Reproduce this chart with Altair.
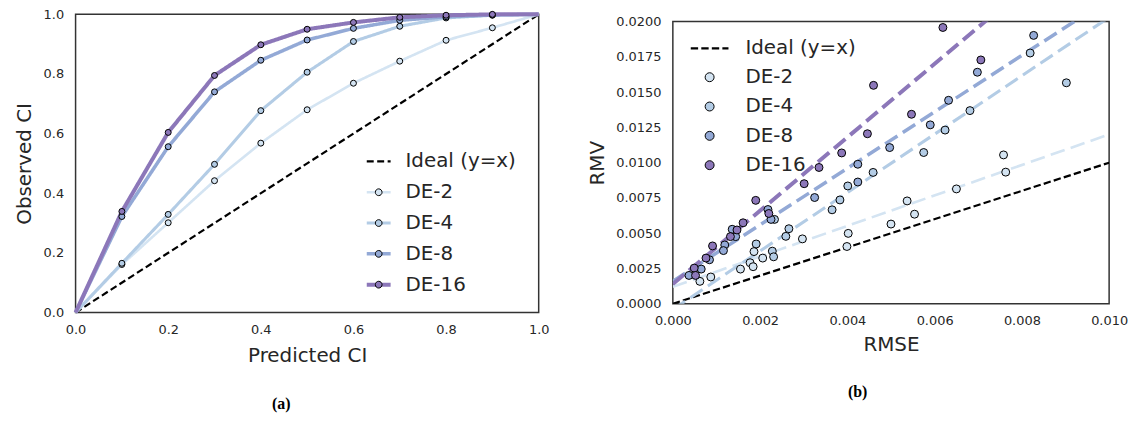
import altair as alt
import pandas as pd

# ---------------- Panel (a): calibration curves ----------------
pred_ci = [0.0, 0.1, 0.2, 0.3, 0.4, 0.5, 0.6, 0.7, 0.8, 0.9, 1.0]
obs_de2 = [0.0, 0.161, 0.301, 0.442, 0.568, 0.680, 0.769, 0.843, 0.913, 0.955, 1.0]
obs_de4 = [0.0, 0.165, 0.329, 0.497, 0.677, 0.806, 0.909, 0.960, 0.988, 0.997, 1.0]
obs_de8 = [0.0, 0.322, 0.556, 0.740, 0.846, 0.914, 0.953, 0.980, 0.992, 0.998, 1.0]
obs_de16 = [0.0, 0.339, 0.604, 0.795, 0.898, 0.950, 0.973, 0.990, 0.997, 1.0, 1.0]
ideal_a_x = [0.0, 1.0]
ideal_a_y = [0.0, 1.0]

series_names = ["DE-2", "DE-4", "DE-8", "DE-16"]
ideal_name = "Ideal (y=x)"
colors = ["#d4e4f2", "#b3cce5", "#93a9d6", "#8c77b9"]

# ---------------- Panel (b): RMV vs RMSE ----------------
rmse_de2 = [0.00758, 0.00763, 0.00650, 0.00537, 0.00554, 0.00500, 0.00402, 0.00399,
            0.00297, 0.00206, 0.00186, 0.00177, 0.00184, 0.00155, 0.00087, 0.00062]
rmv_de2 = [0.01055, 0.00933, 0.00814, 0.00729, 0.00635, 0.00565, 0.00499, 0.00406,
           0.00460, 0.00324, 0.00370, 0.00291, 0.00263, 0.00246, 0.00190, 0.00159]
rmse_de4 = [0.00819, 0.00902, 0.00681, 0.00624, 0.00575, 0.00459, 0.00401, 0.00383,
            0.00365, 0.00233, 0.00266, 0.00259, 0.00191, 0.00228, 0.00231]
rmv_de4 = [0.01777, 0.01566, 0.01369, 0.01231, 0.01072, 0.00931, 0.00835, 0.00736,
           0.00666, 0.00598, 0.00532, 0.00478, 0.00424, 0.00373, 0.00333]
rmse_de8 = [0.00827, 0.00698, 0.00632, 0.00590, 0.00497, 0.00424, 0.00424, 0.00325,
            0.00218, 0.00225, 0.00144, 0.00136, 0.00119, 0.00116, 0.00084, 0.00065, 0.00037]
rmv_de8 = [0.01902, 0.01641, 0.01442, 0.01268, 0.01107, 0.00989, 0.00863, 0.00753,
           0.00668, 0.00598, 0.00476, 0.00528, 0.00417, 0.00377, 0.00312, 0.00246, 0.00201]
rmse_de16 = [0.00619, 0.00706, 0.00460, 0.00547, 0.00446, 0.00387, 0.00335, 0.00301,
             0.00190, 0.00220, 0.00161, 0.00147, 0.00132, 0.00091, 0.00076, 0.00049, 0.00052]
rmv_de16 = [0.01958, 0.01728, 0.01548, 0.01343, 0.01205, 0.01069, 0.00966, 0.00851,
            0.00733, 0.00640, 0.00574, 0.00523, 0.00476, 0.00410, 0.00324, 0.00253, 0.00201]

# fitted dashed lines (endpoints, clipped by the axes)
fit_x = [0.0, 0.01]
fit_de2 = [0.0012, 0.0120]
fit_de4 = [-0.0004, 0.0203]
fit_de8 = [0.0016, 0.0216]
fit_de16 = [0.0014, 0.0274]
ideal_b_x = [0.0, 0.01]
ideal_b_y = [0.0, 0.01]

# ---------------- build tables ----------------
obs_all = [obs_de2, obs_de4, obs_de8, obs_de16]
rows = [{"x": x, "y": y, "series": ideal_name, "o": 0} for x, y in zip(ideal_a_x, ideal_a_y)]
for i, (name, ys) in enumerate(zip(series_names, obs_all)):
    rows += [{"x": x, "y": y, "series": name, "o": i + 1} for x, y in zip(pred_ci, ys)]
df_a_lines = pd.DataFrame(rows)
pts = []
for i, (name, ys) in enumerate(zip(series_names, obs_all)):
    pts += [{"x": x, "y": y, "series": name, "o": i} for x, y in zip(pred_ci[1:10], ys[1:10])]
df_a_pts = pd.DataFrame(pts)

rows = [{"x": x, "y": y, "series": ideal_name} for x, y in zip(ideal_b_x, ideal_b_y)]
for name, ys in zip(series_names, [fit_de2, fit_de4, fit_de8, fit_de16]):
    rows += [{"x": x, "y": y, "series": name} for x, y in zip(fit_x, ys)]
df_b_lines = pd.DataFrame(rows)
pts = []
for i, (name, xs, ys) in enumerate(zip(series_names,
                                       [rmse_de2, rmse_de4, rmse_de8, rmse_de16],
                                       [rmv_de2, rmv_de4, rmv_de8, rmv_de16])):
    pts += [{"x": x, "y": y, "series": name, "o": i} for x, y in zip(xs, ys)]
df_b_pts = pd.DataFrame(pts)

line_dom = [ideal_name] + series_names
W_A, H_A = 466, 300
W_B, H_B = 439, 284

LINE_SYM = "M-2,0L2,0"
LINE_SYM_B = "M-3,0L3,0"
CIRCLE_SYM = "M-1,0A1,1 0 1,0 1,0A1,1 0 1,0 -1,0Z"

# ---------------- panel (a) ----------------
xa = alt.X("x:Q", scale=alt.Scale(domain=[0, 1], nice=False),
           axis=alt.Axis(title="Predicted CI", values=[0, 0.2, 0.4, 0.6, 0.8, 1.0], format=".1f",
                         labelPadding=11, titlePadding=9))
ya = alt.Y("y:Q", scale=alt.Scale(domain=[0, 1], nice=False),
           axis=alt.Axis(title="Observed CI", values=[0, 0.2, 0.4, 0.6, 0.8, 1.0], format=".1f",
                         labelPadding=12, titlePadding=9))

leg_a_lines = alt.Legend(title=None, orient="none", legendX=295, legendY=138, symbolType=LINE_SYM,
                         symbolSize=144, symbolStrokeWidth=3.5, labelOffset=17, rowPadding=11)
lines_a = alt.Chart(df_a_lines).mark_line().encode(
    x=xa, y=ya,
    stroke=alt.Stroke("series:N", scale=alt.Scale(domain=line_dom, range=["#000000"] + colors),
                      legend=leg_a_lines),
    strokeDash=alt.StrokeDash("series:N", scale=alt.Scale(domain=line_dom,
                              range=[[7, 3.5], [1, 0], [1, 0], [1, 0], [1, 0]]), legend=leg_a_lines),
    strokeWidth=alt.StrokeWidth("series:N", scale=alt.Scale(domain=line_dom, range=[2.2, 4, 4, 4, 4]),
                                legend=None),
    order="o:Q",
)
pts_a = alt.Chart(df_a_pts).mark_circle(size=36, opacity=1, stroke="black", strokeWidth=1).encode(
    x=xa, y=ya,
    fill=alt.Fill("series:N", scale=alt.Scale(domain=series_names, range=colors),
                  legend=alt.Legend(title=None, orient="none", legendX=295, legendY=169,
                                    symbolType=CIRCLE_SYM, symbolSize=46, symbolStrokeColor="black",
                                    symbolStrokeWidth=1, symbolOpacity=1, labelExpr="''",
                                    labelOffset=17, rowPadding=11)),
    order="o:Q",
)
cap_a = alt.Chart(pd.DataFrame({"t": ["(a)"]})).mark_text(
    font="Liberation Serif", fontWeight="bold", fontSize=16, color="#000000").encode(
    text="t:N", x=alt.value(207), y=alt.value(H_A + 92))
panel_a = alt.layer(lines_a, pts_a, cap_a).properties(width=W_A, height=H_A)

# ---------------- panel (b) ----------------
xb = alt.X("x:Q", scale=alt.Scale(domain=[0, 0.01], nice=False),
           axis=alt.Axis(title="RMSE", values=[0, 0.002, 0.004, 0.006, 0.008, 0.01], format=".3f",
                         labelPadding=11, titlePadding=7))
yb = alt.Y("y:Q", scale=alt.Scale(domain=[0, 0.02], nice=False),
           axis=alt.Axis(title="RMV", values=[0, 0.0025, 0.005, 0.0075, 0.01, 0.0125, 0.015, 0.0175, 0.02],
                         format=".4f", labelPadding=12, titlePadding=8))
leg_b_lines = alt.Legend(title=None, orient="none", legendX=27, legendY=17, symbolType=LINE_SYM_B,
                         symbolSize=160, symbolStrokeWidth=2.6, labelOffset=26,
                         values=[ideal_name])
lines_b = alt.Chart(df_b_lines).mark_line(clip=True).encode(
    x=xb, y=yb,
    stroke=alt.Stroke("series:N", scale=alt.Scale(domain=line_dom, range=["#000000"] + colors),
                      legend=leg_b_lines),
    strokeDash=alt.StrokeDash("series:N", scale=alt.Scale(domain=line_dom,
                              range=[[7.4, 3.2], [14.8, 6.4], [14.8, 6.4], [14.8, 6.4], [14.8, 6.4]]),
                              legend=leg_b_lines),
    strokeWidth=alt.StrokeWidth("series:N", scale=alt.Scale(domain=line_dom, range=[2.2, 4, 4, 4, 4]),
                                legend=None),
)
pts_b = alt.Chart(df_b_pts).mark_circle(size=64, opacity=1, stroke="black", strokeWidth=1).encode(
    x=xb, y=yb,
    fill=alt.Fill("series:N", scale=alt.Scale(domain=series_names, range=colors),
                  legend=alt.Legend(title=None, orient="none", legendX=27, legendY=46,
                                    symbolType=CIRCLE_SYM, symbolSize=81, symbolStrokeColor="black",
                                    symbolStrokeWidth=1, symbolOpacity=1, labelOffset=26,
                                    rowPadding=9.5)),
    order="o:Q",
)
cap_b = alt.Chart(pd.DataFrame({"t": ["(b)"]})).mark_text(
    font="Liberation Serif", fontWeight="bold", fontSize=16, color="#000000").encode(
    text="t:N", x=alt.value(186), y=alt.value(H_B + 89))
# invisible rule below caption (b): balances the two columns so panel (b) sits a little lower
bottom_pad = alt.Chart(pd.DataFrame({"t": [0]})).mark_rule(color="transparent").encode(
    x=alt.value(186), y=alt.value(H_B + 94), y2=alt.value(H_B + 101))
panel_b = alt.layer(lines_b, pts_b, cap_b, bottom_pad).properties(width=W_B, height=H_B)

chart = alt.hconcat(panel_a, panel_b, spacing=36, center=True).resolve_scale(
    x="independent", y="independent", stroke="independent", fill="independent",
    strokeDash="independent", strokeWidth="independent"
).resolve_legend(stroke="independent", fill="independent", strokeDash="independent").properties(
    padding={"left": 5, "top": -4, "right": 0, "bottom": 0}
).configure_view(stroke="#333333", strokeWidth=1.5).configure_axis(
    grid=False, ticks=False, domain=False, labelFlush=False, labelFont="DejaVu Sans", labelFontSize=13,
    labelColor="#262626", titleFont="DejaVu Sans", titleFontSize=20, titleFontWeight="normal",
    titleColor="#262626"
).configure_legend(labelFont="DejaVu Sans", labelFontSize=20, labelColor="#262626", padding=0)

chart.save("out.html", embed_options={"renderer": "svg", "actions": False})
